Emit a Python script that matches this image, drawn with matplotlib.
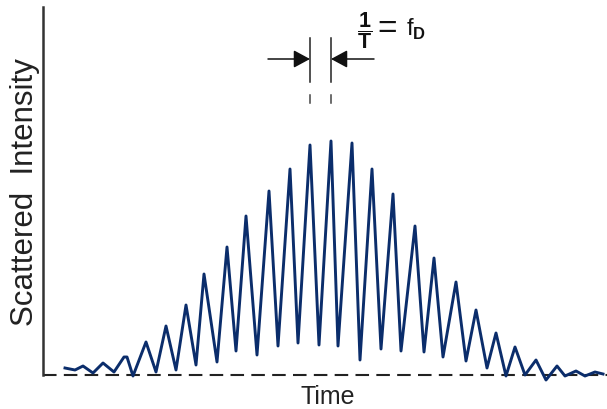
import matplotlib.pyplot as plt
import numpy as np

plt.rcParams['font.family'] = ['Liberation Sans', 'DejaVu Sans']
plt.rcParams['mathtext.fontset'] = 'custom'
plt.rcParams['mathtext.rm'] = 'Liberation Sans'
plt.rcParams['mathtext.bf'] = 'Liberation Sans:bold'

# burst signal: peaks and troughs (time, intensity)
time = [22, 32, 40, 50, 60, 71, 81, 84, 90, 103, 113, 123, 133, 143, 153,
        161, 174, 184, 193, 203, 214, 226, 235, 247, 255, 267, 276, 288,
        295, 309, 317, 329, 338, 350, 358, 372, 381, 391, 400, 413, 423,
        433, 444, 453, 463, 472, 482, 493, 503, 514, 522, 533, 542, 552, 560]
intensity = [7, 5, 9, 2, 12, 3, 18, 18, -1, 33, 3, 49, 5, 70, 10,
             101, 13, 128, 24, 159, 20, 184, 29, 206, 32, 230, 30, 234,
             29, 232, 15, 206, 26, 181, 24, 149, 23, 117, 18, 93, 14,
             65, 7, 42, -1, 28, 0, 15, -5, 9, -1, 4, -1, 3, 1]

# the two peaks marked by the 1/T annotation
mark_a, mark_b = 267, 288

fig = plt.figure(figsize=(6.07, 4.10), dpi=100)
ax = fig.add_axes([43/607, 34/410, 564/607, 368/410])
ax.set_xlim(0, 564)
ax.set_ylim(0, 368)

ax.plot(time, intensity, color='#0b2d6b', lw=2.1, solid_joinstyle='round',
        clip_on=False, zorder=3)

for s in ['top', 'right', 'bottom']:
    ax.spines[s].set_visible(False)
ax.spines['left'].set_color('#333333')
ax.spines['left'].set_linewidth(1.8)
ax.set_xticks([])
ax.set_yticks([])
ax.axhline(0, color='#222222', lw=1.5, ls=(0, (6.5, 3.5)), clip_on=False)

# 1/T annotation
arr = dict(arrowstyle='-|>,head_length=0.5,head_width=0.27', mutation_scale=20,
           color='#111111', lw=1.1, shrinkA=0, shrinkB=0)
ax.annotate('', xy=(mark_a, 316), xytext=(mark_a - 42, 316), arrowprops=arr)
ax.annotate('', xy=(mark_b, 316), xytext=(mark_b + 43, 316), arrowprops=arr)
for m in [mark_a, mark_b]:
    ax.plot([m, m], [293, 337], color='#222222', lw=1.1)
    ax.plot([m, m], [272, 280], color='#444444', lw=1.1)
ax.text(314, 345, r'$\mathbf{\dfrac{1}{T}}$', fontsize=15.5,
        ha='left', va='center', color='#111111')
ax.text(344, 346, '=', fontsize=24, ha='center', va='center', color='#111111')
ax.text(363, 347, r'f$_{\mathbf{D}}$', fontsize=17, ha='left', va='center',
        color='#111111')

fig.text(25/607, 1 - 192/410, 'Scattered  Intensity', rotation=90,
         ha='center', va='center', fontsize=22.5, color='#222222')
fig.text(328/607, 1 - 397/410, 'Time', ha='center', va='center',
         fontsize=18, color='#222222')

fig.savefig('out.png', dpi=100)
